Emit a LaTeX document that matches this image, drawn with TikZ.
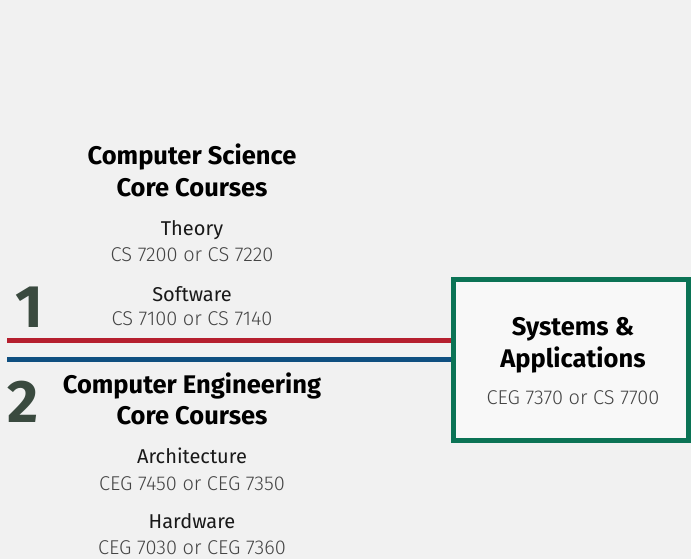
\documentclass[tikz,border=0pt]{standalone}
\usepackage{fontspec}
\setmainfont{Fira Sans}
\newfontfamily\codefont{Fira Sans Light}
\usepackage{xcolor}
\usetikzlibrary{positioning}

\definecolor{pagegray}{HTML}{F1F1F1}
\definecolor{boxfill}{HTML}{F8F8F8}
\definecolor{boxgreen}{HTML}{0B7355}
\definecolor{trackred}{HTML}{B51F2E}
\definecolor{trackblue}{HTML}{0F4F80}
\definecolor{digitgreen}{HTML}{3A4A3F}
\definecolor{codegray}{HTML}{444444}

\tikzset{
    heading/.style={font=\fontsize{25.5}{31.7}\selectfont\bfseries, align=center, anchor=base, text=black},
    course/.style={font=\fontsize{20}{20}\selectfont, anchor=base, text=black!90},
    code/.style={font=\codefont\fontsize{20}{20}\selectfont, anchor=base, text=codegray},
    track/.style={font=\fontsize{60}{60}\selectfont\bfseries, anchor=base, text=digitgreen},
    trackline/.style={line width=5pt},
    capbox/.style={draw=boxgreen, line width=5pt, fill=boxfill, inner sep=0pt,
        minimum width=235pt, minimum height=161.5pt},
}

\begin{document}
\begin{tikzpicture}[x=1pt,y=1pt]
    \fill[pagegray] (0,0) rectangle (691,559);
    \useasboundingbox (0,0) rectangle (691,559);

    % Computer Science track (heading sits on the base of its last line)
    \node[heading] (cshead) at (192,362.3) {Computer Science\\Core Courses};
    \node[course] (theory) at (192,323) {Theory};
    \node[code] (theorycode) at (192,297.3) {CS 7200 or CS 7220};
    \node[course] (software) at (192,257.3) {Software};
    \node[code] (softwarecode) at (192,233) {CS 7100 or CS 7140};

    % Computer Engineering track
    \node[heading] (cehead) at (192,134) {Computer Engineering\\Core Courses};
    \node[course] (arch) at (192,95) {Architecture};
    \node[code] (archcode) at (192,68.3) {CEG 7450 or CEG 7350};
    \node[course] (hardware) at (192,30) {Hardware};
    \node[code, inner sep=1pt] (hardwarecode) at (192,4) {CEG 7030 or CEG 7360};

    % Track numbers
    \node[track] (one) at (29,231) {1};
    \node[track] (two) at (23,136) {2};

    % Capstone box
    \node[capbox] (sys) at (571,198.75) {};
    \node[heading] (systitle) at (573,191.7) {Systems \&\\Applications};
    \node[code] (syscode) at (573,154) {CEG 7370 or CS 7700};

    % Track lines
    \coordinate (redstart) at (7,218.5);
    \coordinate (bluestart) at (7,199.5);
    \draw[trackline, trackred] (redstart) -- (redstart -| sys.west);
    \draw[trackline, trackblue] (bluestart) -- (bluestart -| sys.west);
\end{tikzpicture}
\end{document}
